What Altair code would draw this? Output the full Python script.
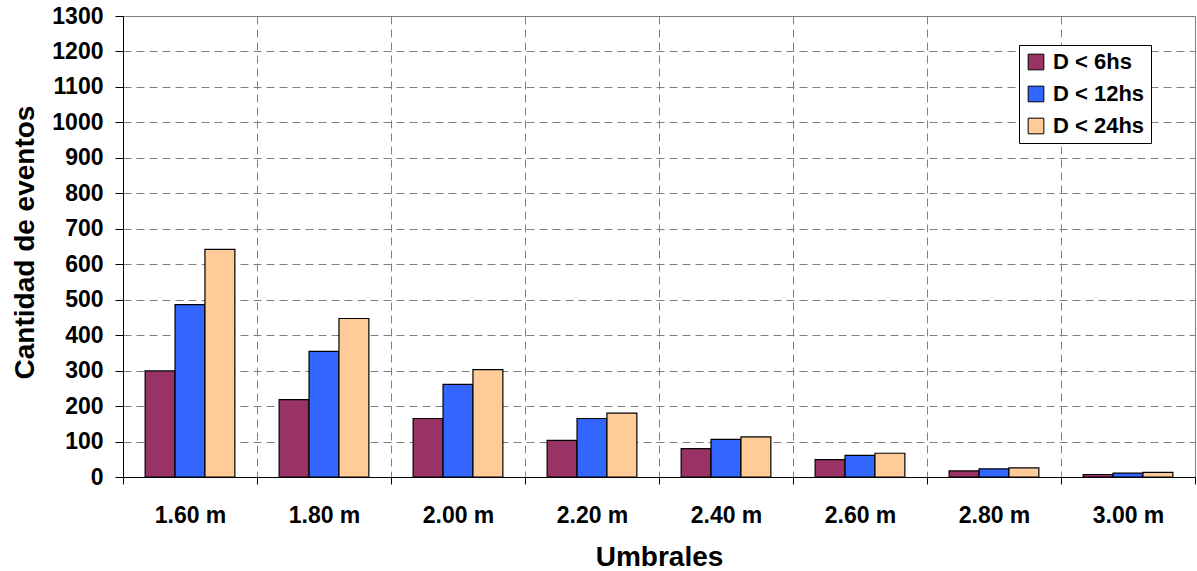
import altair as alt
import pandas as pd

categories = ["1.60 m", "1.80 m", "2.00 m", "2.20 m", "2.40 m", "2.60 m", "2.80 m", "3.00 m"]
series_names = ["D < 6hs", "D < 12hs", "D < 24hs"]
d6 = [299, 218, 165, 103, 80, 49, 17, 7]
d12 = [486, 354, 261, 165, 106, 61, 23, 11]
d24 = [642, 447, 303, 180, 113, 67, 26, 13]
colors = ["#993366", "#3366FF", "#FFCC99"]

rows = []
for name, vals in zip(series_names, [d6, d12, d24]):
    for c, v in zip(categories, vals):
        rows.append({"Umbral": c, "Serie": name, "Valor": v})
df = pd.DataFrame(rows)

FONT = "Liberation Sans"

chart = alt.Chart(df).mark_bar(stroke="black", strokeWidth=1.2).encode(
    x=alt.X("Umbral:N", sort=categories,
            scale=alt.Scale(paddingInner=0, paddingOuter=0),
            axis=alt.Axis(title="Umbrales", labelAngle=0, tickBand="extent",
                          grid=True, gridDash=[8, 5], gridColor="#808080",
                          domainColor="#000000", tickColor="#000000", tickSize=7,
                          labelFont=FONT, labelFontSize=23, labelFontWeight="bold",
                          labelColor="#000000", labelBaseline="alphabetic", labelPadding=38,
                          titleFont=FONT, titleFontSize=28, titleFontWeight="bold",
                          titleColor="#000000", titleX=536, titleY=88,
                          titleBaseline="alphabetic", titleAlign="center")),
    xOffset=alt.XOffset("Serie:N", sort=series_names,
                        scale=alt.Scale(paddingInner=0, paddingOuter=0.74)),
    y=alt.Y("Valor:Q",
            scale=alt.Scale(domain=[0, 1300]),
            axis=alt.Axis(title="Cantidad de eventos", values=list(range(0, 1301, 100)),
                          format="d",
                          grid=True, gridDash=[8, 5], gridColor="#808080",
                          domainColor="#000000", tickColor="#000000", tickSize=8,
                          labelFont=FONT, labelFontSize=23, labelFontWeight="bold",
                          labelColor="#000000", labelPadding=12,
                          titleFont=FONT, titleFontSize=28, titleFontWeight="bold",
                          titleColor="#000000", titleX=-90, titleY=226,
                          titleAngle=-90, titleBaseline="alphabetic", titleAlign="center")),
    color=alt.Color("Serie:N", sort=series_names,
                    scale=alt.Scale(domain=series_names, range=colors),
                    legend=alt.Legend(title=None, orient="none", legendX=896, legendY=29,
                                      symbolType="square", symbolSize=246,
                                      symbolStrokeColor="black", symbolStrokeWidth=1,
                                      labelFont=FONT, labelFontSize=22, labelFontWeight="bold",
                                      labelColor="#000000", rowPadding=10,
                                      padding=6, strokeColor="black", fillColor="white",
                                      labelOffset=6)),
).properties(
    width=1072, height=461,
    autosize=alt.AutoSizeParams(type="none"),
    padding={"left": 123, "top": 16, "right": 2, "bottom": 94},
).configure_view(stroke="#808080", strokeWidth=1)

chart.save("out.html", embed_options={"renderer": "svg", "actions": False})
